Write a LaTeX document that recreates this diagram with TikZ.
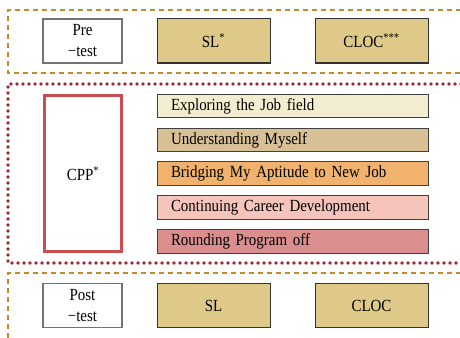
\documentclass[tikz,border=0pt]{standalone}
\usepackage{fontspec}
\setmainfont{Liberation Serif}[FakeStretch=0.88]
\begin{document}
\definecolor{dashcol}{RGB}{196,140,40}
\definecolor{dotcol}{RGB}{160,40,45}
\definecolor{tan}{RGB}{222,201,136}
\definecolor{cppred}{RGB}{200,78,80}
\definecolor{barA}{RGB}{242,237,208}
\definecolor{barB}{RGB}{216,192,150}
\definecolor{barC}{RGB}{240,178,108}
\definecolor{barD}{RGB}{245,196,186}
\definecolor{barE}{RGB}{218,142,142}
\newcommand\labelfont{\fontsize{17}{21}\selectfont\spaceskip=6pt plus 1pt\relax}
\begin{tikzpicture}[x=1pt,y=-1pt,
  phase/.style={draw=dashcol,line width=1.2pt,dash pattern=on 5pt off 4pt},
  program/.style={draw=dotcol,line width=3.8pt,line cap=round,dash pattern=on 0pt off 6pt},
  testbox/.style={draw=black!55,line width=1.2pt,fill=white,minimum width=79pt,minimum height=44pt,inner sep=0pt,align=center,font=\labelfont},
  scalebox/.style={draw=black!80,line width=1pt,fill=tan,minimum width=113pt,minimum height=44pt,inner sep=0pt,font=\labelfont},
  stagebar/.style={draw=black!75,line width=1pt,minimum width=271pt,minimum height=23.5pt,inner sep=0pt,text width=243pt,align=left,font=\labelfont}
]
\useasboundingbox (0,0) rectangle (460,337);

% pre-test phase
\draw[phase] (461,10) -- (8,10) -- (8,73) -- (461,73);
\node[testbox] (pre) at (82.5,41) {Pre\\−test};
\node[scalebox] (sl1) at (213.5,41) {SL\textsuperscript{*}};
\node[scalebox] (cloc1) at (371.5,41) {CLOC\textsuperscript{***}};

% program phase
\draw[program] (461,84) -- (8,84) -- (8,263) -- (461,263);
\node[draw=cppred,line width=3pt,minimum width=77pt,minimum height=156pt,inner sep=0pt,font=\labelfont] (cpp) at (83,173.5) {CPP\textsuperscript{*}};
\node[stagebar,fill=barA] (s1) at (292.5,106) {Exploring the Job field};
\node[stagebar,fill=barB] (s2) at (292.5,140) {Understanding Myself};
\node[stagebar,fill=barC] (s3) at (292.5,173.5) {Bridging My Aptitude to New Job};
\node[stagebar,fill=barD] (s4) at (292.5,207.5) {Continuing Career Development};
\node[stagebar,fill=barE] (s5) at (292.5,241.5) {Rounding Program off};

% post-test phase
\draw[phase] (461,273) -- (8,273) -- (8,340);
\node[testbox] (post) at (82.5,305.5) {Post\\−test};
\node[scalebox] (sl2) at (213.5,305.5) {SL};
\node[scalebox] (cloc2) at (371.5,305.5) {CLOC};
\end{tikzpicture}
\end{document}
